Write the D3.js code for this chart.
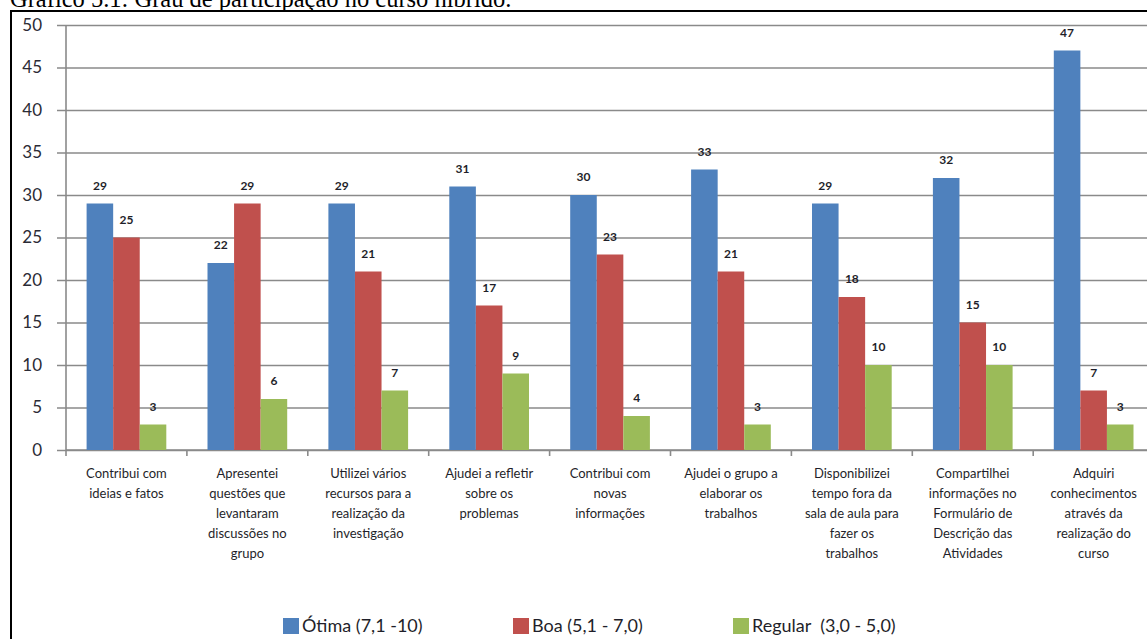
<!DOCTYPE html>
<html>
<head>
<meta charset="utf-8">
<script src="https://cdn.jsdelivr.net/npm/d3@7"></script>
<style>
  html, body { margin: 0; padding: 0; background: #fff; overflow: hidden; }
  svg { display: block; }
</style>
</head>
<body>
<figure id="bar" style="margin:0"></figure>
<script>
const categories = [
  "Contribui com\nideias e fatos",
  "Apresentei\nquestões que\nlevantaram\ndiscussões no\ngrupo",
  "Utilizei vários\nrecursos para a\nrealização da\ninvestigação",
  "Ajudei a refletir\nsobre os\nproblemas",
  "Contribui com\nnovas\ninformações",
  "Ajudei o grupo a\nelaborar os\ntrabalhos",
  "Disponibilizei\ntempo fora da\nsala de aula para\nfazer os\ntrabalhos",
  "Compartilhei\ninformações no\nFormulário de\nDescrição das\nAtividades",
  "Adquiri\nconhecimentos\natravés da\nrealização do\ncurso"
];
const otima   = [29, 22, 29, 31, 30, 33, 29, 32, 47];
const boa     = [25, 29, 21, 17, 23, 21, 18, 15, 7];
const regular = [3, 6, 7, 9, 4, 3, 10, 10, 3];
const seriesNames = ["Ótima (7,1 -10)", "Boa (5,1 - 7,0)", "Regular  (3,0 - 5,0)"];
const yTicks = [0, 5, 10, 15, 20, 25, 30, 35, 40, 45, 50];
const title = "Gráfico 5.1: Grau de participação no curso híbrido.";

const colors = ["#4f81bd", "#c0504d", "#9bbb59"];
const width = 1147, height = 639;

const svg = d3.select("figure#bar").append("svg")
  .attr("width", width).attr("height", height);

// caption, cut at the top like the scan
svg.append("text")
  .attr("x", 10).attr("y", 7)
  .style("font-family", "'Liberation Serif', 'Times New Roman', serif")
  .style("font-size", "24.5px")
  .attr("fill", "#000")
  .text(title);

// chart frame
svg.append("rect")
  .attr("x", 11).attr("y", 11)
  .attr("width", 1200).attr("height", 700)
  .attr("fill", "none").attr("stroke", "#000").attr("stroke-width", 2);

const axisX = 66, bandW = 120.9;
const x = d3.scaleBand()
  .domain(categories.map((d, i) => i))
  .range([axisX, axisX + bandW * categories.length])
  .padding(0);

const xs = d3.scaleBand()
  .domain([0, 1, 2])
  .range([20.6, bandW - 20.6])
  .padding(0);

const y = d3.scaleLinear().domain([0, 50]).range([450, 25]);

// gridlines + y labels
const yAxis = svg.append("g")
  .attr("transform", "translate(" + axisX + ",0)")
  .call(d3.axisLeft(y).tickValues(yTicks).tickSize(-(width - axisX + 20)).tickSizeOuter(0).tickPadding(24));
yAxis.select(".domain").remove();
yAxis.selectAll(".tick line")
  .attr("x1", -9)
  .attr("stroke", "#8a8a8a").attr("stroke-width", 1.6);
yAxis.selectAll(".tick text")
  .style("font-family", "Lato, 'Open Sans', sans-serif")
  .style("font-size", "17px")
  .attr("fill", "#2b2b35");

// vertical axis line
svg.append("line")
  .attr("x1", axisX).attr("x2", axisX)
  .attr("y1", y(50)).attr("y2", y(0) + 1)
  .attr("stroke", "#8a8a8a").attr("stroke-width", 1.6);

// x axis ticks at band edges
const xAxis = svg.append("g")
  .attr("transform", "translate(0," + y(0) + ")");
xAxis.append("line")
  .attr("x1", axisX).attr("x2", width + 20)
  .attr("stroke", "#8a8a8a").attr("stroke-width", 1.6);
xAxis.selectAll(".xt")
  .data(d3.range(categories.length + 1))
  .enter().append("line")
  .attr("x1", i => axisX + i * x.step()).attr("x2", i => axisX + i * x.step())
  .attr("y1", 0).attr("y2", 6)
  .attr("stroke", "#8a8a8a").attr("stroke-width", 1.6);

// category labels
const catG = svg.append("g");
categories.forEach((c, i) => {
  const t = catG.append("text")
    .attr("x", x(i) + x.bandwidth() / 2)
    .attr("y", 478)
    .attr("text-anchor", "middle")
    .style("font-family", "Lato, 'Open Sans', sans-serif")
    .style("font-size", "13px")
    .attr("fill", "#1f1f2a");
  c.split("\n").forEach((line, k) => {
    t.append("tspan")
      .attr("x", x(i) + x.bandwidth() / 2)
      .attr("dy", k === 0 ? 0 : 20)
      .text(line);
  });
});

// bars
const series = [otima, boa, regular];
const rows = [];
series.forEach((vals, s) => vals.forEach((v, i) => rows.push({ s: s, i: i, v: v })));

svg.append("g").selectAll("rect")
  .data(rows)
  .enter().append("rect")
  .attr("x", d => x(d.i) + xs(d.s))
  .attr("y", d => y(d.v))
  .attr("width", xs.bandwidth())
  .attr("height", d => y(0) - y(d.v))
  .attr("fill", d => colors[d.s]);

// value labels
svg.append("g").selectAll("text")
  .data(rows)
  .enter().append("text")
  .attr("x", d => x(d.i) + xs(d.s) + xs.bandwidth() / 2)
  .attr("y", d => y(d.v) - 14)
  .attr("text-anchor", "middle")
  .style("font-family", "Lato, 'Open Sans', sans-serif")
  .style("font-size", "12px")
  .style("font-weight", "bold")
  .attr("fill", "#1f1f2a")
  .text(d => d.v);

// legend
const legendX = [283, 513, 733];
const legend = svg.append("g").selectAll("g")
  .data(seriesNames)
  .enter().append("g")
  .attr("transform", (d, i) => "translate(" + legendX[i] + ",618)");
legend.append("rect")
  .attr("width", 16).attr("height", 16)
  .attr("fill", (d, i) => colors[i]);
legend.append("text")
  .attr("x", 19).attr("y", 14)
  .style("font-family", "Lato, 'Open Sans', sans-serif")
  .style("font-size", "18px")
  .attr("fill", "#1f1f2a")
  .style("white-space", "pre")
  .text(d => d);
</script>
</body>
</html>
